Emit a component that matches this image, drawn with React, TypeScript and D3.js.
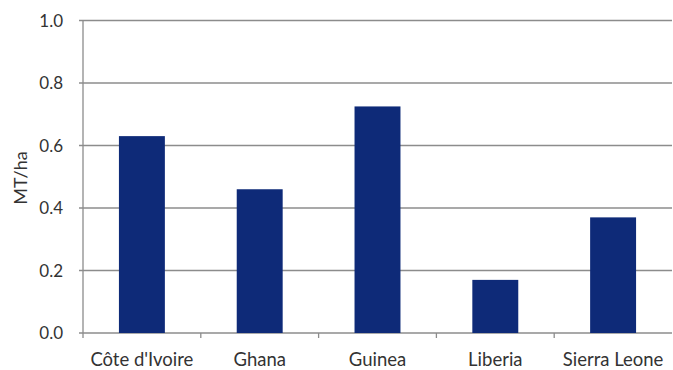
import React from "react";
import * as d3 from "d3";

const categories = ["Côte d'Ivoire", "Ghana", "Guinea", "Liberia", "Sierra Leone"];
const values = [0.63, 0.46, 0.725, 0.17, 0.37];
const yTicks = [0, 0.2, 0.4, 0.6, 0.8, 1.0];
const yLabel = "MT/ha";

export default function App() {
  const W = 673, H = 370;
  const left = 83, right = 672, top = 20.5, bottom = 333;
  const x = d3.scaleBand<string>().domain(categories).range([left, right]).paddingInner(0.61).paddingOuter(0.305);
  const xb = d3.scaleBand<string>().domain(categories).range([left, right]);
  const y = d3.scaleLinear().domain([0, 1]).range([bottom, top]);
  const font = "Lato, 'Open Sans', sans-serif";
  return (
    <svg width={W} height={H} style={{ position: "absolute", left: 0, top: 0, background: "#fff" }}>
      {yTicks.map((t) => (
        <g key={t}>
          <line x1={left - 4} x2={right} y1={y(t)} y2={y(t)} stroke="#8c8c8c" strokeWidth={1.3} />
          <text x={63} y={y(t)} dy="0.36em" textAnchor="end" fontSize={17} fontFamily={font} fill="#333">
            {d3.format(".1f")(t)}
          </text>
        </g>
      ))}
      <line x1={left} x2={left} y1={top} y2={bottom} stroke="#8c8c8c" strokeWidth={1.3} />
      {categories.map((c, i) => (
        <line key={"t" + i} x1={(xb(c) as number)} x2={(xb(c) as number)} y1={bottom} y2={bottom + 5} stroke="#8c8c8c" strokeWidth={1.3} />
      ))}
      {categories.map((c, i) => (
        <rect key={c} x={x(c)} y={y(values[i])} width={x.bandwidth()} height={bottom - y(values[i])} fill="#0e2a78" />
      ))}
      {categories.map((c) => (
        <text key={"l" + c} x={(xb(c) as number) + xb.bandwidth() / 2} y={366} textAnchor="middle" fontSize={18.5} fontFamily={font} fill="#333">
          {c}
        </text>
      ))}
      <text transform={`translate(27,178) rotate(-90)`} textAnchor="middle" fontSize={18} fontFamily={font} fill="#333">
        {yLabel}
      </text>
    </svg>
  );
}
